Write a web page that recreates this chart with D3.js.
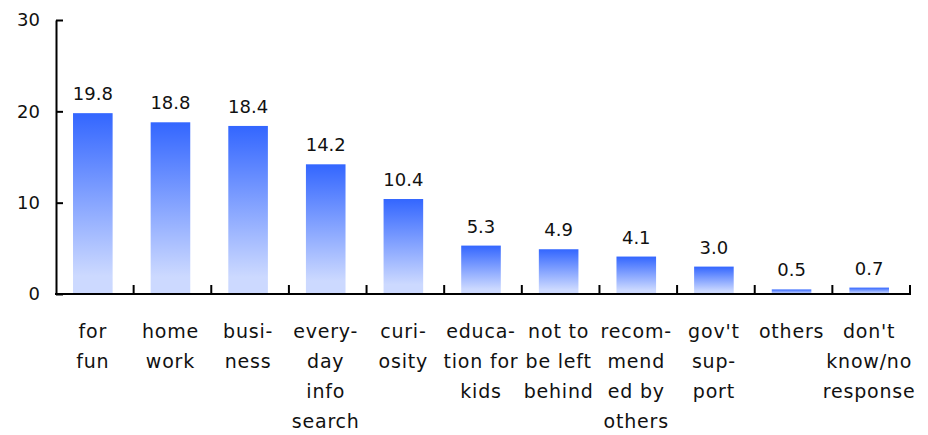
<!DOCTYPE html>
<html><head><meta charset="utf-8">
<script src="https://cdn.jsdelivr.net/npm/d3@7"></script>
<style>body{margin:0;background:#fff}svg{display:block}</style>
</head><body>
<script>
const categories = ["for fun","home work","business","everyday info search","curiosity","education for kids","not to be left behind","recommended by others","gov't support","others","don't know/no response"];
const labelLines = [["for","fun"],["home","work"],["busi-","ness"],["every-","day","info","search"],["curi-","osity"],["educa-","tion for","kids"],["not to","be left","behind"],["recom-","mend","ed by","others"],["gov't","sup-","port"],["others"],["don't","know/no","response"]];
const values = [19.8,18.8,18.4,14.2,10.4,5.3,4.9,4.1,3.0,0.5,0.7];
const yTicks = [0,10,20,30];

const W=928,H=435;
const svg=d3.select("body").append("svg").attr("width",W).attr("height",H);
const x=d3.scaleBand().domain(categories).range([56,910]).paddingInner(0.49).paddingOuter(0.245);
const y=d3.scaleLinear().domain([0,30]).range([294,20]);

const defs=svg.append("defs");
const g=defs.append("linearGradient").attr("id","bg").attr("x1",0).attr("y1",0).attr("x2",0).attr("y2",1);
g.append("stop").attr("offset","0%").attr("stop-color","#3366ff");
g.append("stop").attr("offset","90%").attr("stop-color","#ccd9ff");
g.append("stop").attr("offset","100%").attr("stop-color","#ccd9ff");

svg.selectAll("rect.bar").data(values).join("rect").attr("class","bar")
  .attr("x",(d,i)=>x(categories[i])-2).attr("width",x.bandwidth())
  .attr("y",d=>y(d)).attr("height",d=>y(0)-y(d)).attr("fill","url(#bg)");

svg.selectAll("text.val").data(values).join("text").attr("class","val")
  .attr("x",(d,i)=>x(categories[i])-2+x.bandwidth()/2).attr("y",d=>y(d)-13)
  .attr("text-anchor","middle").attr("font-family","DejaVu Sans").attr("font-size",18).attr("fill","#111")
  .text(d=>d.toFixed(1));

// y axis
const ya=svg.append("g").attr("transform","translate(56,0)")
  .call(d3.axisLeft(y).tickValues(yTicks).tickSize(-7).tickPadding(16).tickSizeOuter(0));
ya.select(".domain").attr("stroke","#000").attr("stroke-width",2);
ya.selectAll(".tick line").attr("stroke","#000").attr("stroke-width",2);
ya.selectAll(".tick text").attr("font-family","DejaVu Sans").attr("font-size",18).attr("fill","#111");

// x axis
const step=x.step();
const bounds=d3.range(1,categories.length+1).map(i=>56+i*(854/categories.length));
svg.append("line").attr("x1",55).attr("x2",911).attr("y1",294).attr("y2",294).attr("stroke","#000").attr("stroke-width",2);
svg.selectAll("line.xt").data(bounds).join("line").attr("class","xt")
  .attr("x1",d=>d).attr("x2",d=>d).attr("y1",294).attr("y2",285).attr("stroke","#000").attr("stroke-width",2);

// category labels
const lab=svg.selectAll("text.cat").data(labelLines).join("text").attr("class","cat")
  .attr("text-anchor","middle").attr("font-family","DejaVu Sans").attr("font-size",19)
  .attr("letter-spacing","0.8px").attr("fill","#111");
lab.each(function(lines,i){
  const cx=x(categories[i])-2+x.bandwidth()/2;
  d3.select(this).selectAll("tspan").data(lines).join("tspan")
    .attr("x",cx).attr("y",(d,j)=>338+j*30).text(d=>d);
});
</script>
</body></html>
